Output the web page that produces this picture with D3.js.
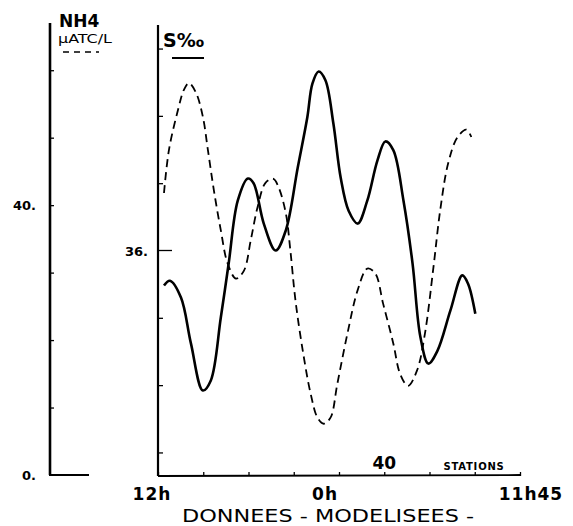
<!DOCTYPE html>
<html>
<head>
<meta charset="utf-8">
<script src="https://cdn.jsdelivr.net/npm/d3@7"></script>
<style>
  body { margin: 0; background: #fff; }
  text { font-family: "DejaVu Sans", sans-serif; fill: #000; }
</style>
</head>
<body>
<script>
// Data
//= ================================

// salinity S o/oo (solid line), station number along the track
var salStations = [1.06, 2.11, 4.06, 5.82, 7.93, 9.34, 11.1, 12.5, 14.1, 15.9, 16.9, 18.7,
  20.8, 22.6, 24.7, 26.4, 27.3, 28.4, 29.6, 31.0, 32.3, 33.7, 35.3, 37.0, 38.8, 40.2,
  41.6, 43.4, 45.0, 46.4, 47.8, 49.4, 51.7, 53.8, 54.8, 56.1];
var salValues = [35.48, 35.55, 35.30, 34.62, 33.92, 34.07, 35.0, 35.81, 36.74, 37.07, 37.0, 36.4,
  36.0, 36.3, 37.23, 37.98, 38.48, 38.66, 38.53, 37.89, 37.08, 36.59, 36.4, 36.74, 37.34, 37.62,
  37.49, 36.74, 35.81, 34.71, 34.32, 34.51, 35.11, 35.63, 35.51, 35.06];

// NH4 µATC/L (dashed line)
var nh4Stations = [1.06, 1.94, 3.53, 4.58, 5.46, 6.7, 7.93, 8.82, 9.88, 11.1, 12.3, 13.8, 15.2,
  16.4, 17.6, 19.0, 20.4, 21.3, 22.6, 23.4, 24.3, 25.6, 27.0, 28.2, 29.3, 30.5, 31.7, 33.5,
  35.3, 37.0, 38.4, 39.8, 41.6, 42.8, 44.2, 45.8, 47.2, 48.7, 49.9, 51.3, 52.9, 54.5, 55.4];
var nh4Values = [41.8, 48.2, 54.1, 57.1, 58.1, 56.7, 53.1, 48.2, 42.2, 36.3, 31.4, 29.1, 30.3,
  34.8, 39.7, 43.3, 43.9, 42.7, 38.8, 33.3, 25.9, 18.4, 12.0, 8.5, 7.6, 8.5, 13.5, 21.0,
  27.4, 30.6, 29.9, 25.4, 19.5, 15.0, 13.2, 15.5, 21.0, 30.8, 39.3, 46.2, 50.0, 51.2, 50.1];

// axis ticks and labels
var stationTicks = [0, 8, 16, 24, 32, 40, 48, 56, 64];
var nh4Ticks = [10, 20, 30, 40, 50, 60];
var nh4Labels = [0, 40];
var salTicks = [33, 34, 35, 37, 38, 39];
var salLabels = [36];
var timeLabels = ["12h", "0h", "11h45"];
var timeStations = [0, 29, 64];

var width = 573, height = 526;

var svg = d3.select("body")
    .append("svg")
    .attr("width", width)
    .attr("height", height);

svg.append("rect").attr("width", width).attr("height", height).attr("fill", "#fff");

// scales
var x = d3.scaleLinear().domain([0, 64]).range([158, 520]);
var yN = d3.scaleLinear().domain([0, 67]).range([475, 23]);
var yS = d3.scaleLinear().domain([32.65, 39.35]).range([476, 25]);

// Left axis : NH4
//= ================================
svg.append("line")
    .attr("x1", 50).attr("x2", 50)
    .attr("y1", yN(67)).attr("y2", yN(0))
    .attr("stroke", "#000").attr("stroke-width", 2.6);
svg.append("line")
    .attr("x1", 49).attr("x2", 89)
    .attr("y1", yN(0)).attr("y2", yN(0))
    .attr("stroke", "#000").attr("stroke-width", 2);

svg.append("g")
    .attr("transform", "translate(50,0)")
    .call(d3.axisRight(yN).tickValues(nh4Ticks).tickSize(4).tickSizeOuter(0).tickFormat(""))
    .call(function(g) { g.select(".domain").remove(); })
    .selectAll("line").attr("stroke-width", 1.3);

svg.selectAll(".nh4lab")
    .data(nh4Labels)
    .enter().append("text")
    .attr("x", 36)
    .attr("y", function(d) { return yN(d) + 5; })
    .attr("text-anchor", "end")
    .attr("font-size", 13)
    .attr("font-weight", 600)
    .text(function(d) { return d + "."; });

svg.append("text").attr("x", 59).attr("y", 27)
    .attr("font-size", 17).attr("font-weight", "bold").text("NH4");
svg.append("text").attr("x", 58).attr("y", 43)
    .attr("font-size", 12).attr("font-family", "'DejaVu Sans Condensed', 'DejaVu Sans', sans-serif")
    .attr("textLength", 54).attr("lengthAdjust", "spacingAndGlyphs")
    .text("µATC/L");
svg.append("line")
    .attr("x1", 63).attr("x2", 99).attr("y1", 52).attr("y2", 52)
    .attr("stroke", "#000").attr("stroke-width", 1.3).attr("stroke-dasharray", "6,5");

// Right axis : salinity
//= ================================
svg.append("line")
    .attr("x1", x(0)).attr("x2", x(0))
    .attr("y1", yS(39.35)).attr("y2", yS(32.65))
    .attr("stroke", "#000").attr("stroke-width", 2.2);

svg.append("g")
    .attr("transform", "translate(" + x(0) + ",0)")
    .call(d3.axisRight(yS).tickValues(salTicks).tickSize(5).tickSizeOuter(0).tickFormat(""))
    .call(function(g) { g.select(".domain").remove(); })
    .selectAll("line").attr("stroke-width", 1.3);

svg.selectAll(".sallab")
    .data(salLabels)
    .enter().append("g")
    .each(function(d) {
        d3.select(this).append("line")
            .attr("x1", x(0)).attr("x2", x(0) + 14)
            .attr("y1", yS(d)).attr("y2", yS(d))
            .attr("stroke", "#000").attr("stroke-width", 1.3);
        d3.select(this).append("text")
            .attr("x", x(0) - 10)
            .attr("y", yS(d) + 5)
            .attr("text-anchor", "end")
            .attr("font-size", 13)
            .attr("font-weight", "bold")
            .text(d + ".");
    });

svg.append("text").attr("x", 163).attr("y", 47)
    .attr("font-size", 19).attr("font-weight", "bold").text("S‰");
svg.append("line")
    .attr("x1", 172).attr("x2", 204).attr("y1", 58).attr("y2", 58)
    .attr("stroke", "#000").attr("stroke-width", 2);

// Bottom axis : stations / time
//= ================================
svg.append("line")
    .attr("x1", x(0)).attr("x2", x(64))
    .attr("y1", 476).attr("y2", 475)
    .attr("stroke", "#000").attr("stroke-width", 1.8);

svg.append("g")
    .attr("transform", "translate(0,476)")
    .call(d3.axisTop(x).tickValues(stationTicks).tickSize(4).tickSizeOuter(0).tickFormat(""))
    .call(function(g) { g.select(".domain").remove(); })
    .selectAll("line").attr("stroke-width", 1.3);

svg.append("text").attr("x", x(40)).attr("y", 469)
    .attr("text-anchor", "middle").attr("font-size", 17).attr("font-weight", "bold").text("40");
svg.append("text").attr("x", 474).attr("y", 470)
    .attr("text-anchor", "middle").attr("font-size", 10).attr("font-weight", "bold")
    .attr("letter-spacing", 0.8).text("STATIONS");

var timeDx = [-6, 3, 11];
svg.selectAll(".timelab")
    .data(timeLabels)
    .enter().append("text")
    .attr("x", function(d, i) { return x(timeStations[i]) + timeDx[i]; })
    .attr("y", 500)
    .attr("text-anchor", "middle")
    .attr("font-size", 17)
    .attr("font-weight", "bold")
    .attr("letter-spacing", 1)
    .text(function(d) { return d; });

svg.append("text").attr("x", 182).attr("y", 522)
    .attr("font-size", 18)
    .attr("textLength", 292).attr("lengthAdjust", "spacingAndGlyphs")
    .text("DONNEES - MODELISEES -");

// Curves
//= ================================
var salLine = d3.line()
    .x(function(d, i) { return x(salStations[i]); })
    .y(function(d) { return yS(d); })
    .curve(d3.curveCatmullRom.alpha(0.5));

var nh4Line = d3.line()
    .x(function(d, i) { return x(nh4Stations[i]); })
    .y(function(d) { return yN(d); })
    .curve(d3.curveCatmullRom.alpha(0.5));

svg.append("path")
    .attr("d", nh4Line(nh4Values))
    .attr("fill", "none")
    .attr("stroke", "#000")
    .attr("stroke-width", 1.8)
    .attr("stroke-dasharray", "8,5");

svg.append("path")
    .attr("d", salLine(salValues))
    .attr("fill", "none")
    .attr("stroke", "#000")
    .attr("stroke-width", 2.6)
    .attr("stroke-linejoin", "round");
</script>
</body>
</html>
